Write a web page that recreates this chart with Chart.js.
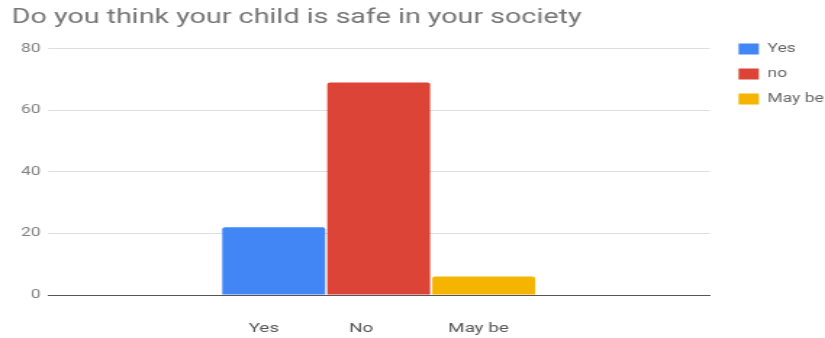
<!DOCTYPE html>
<html>
<head>
<meta charset="utf-8">
<script src="https://cdn.jsdelivr.net/npm/chart.js@4"></script>
<style>
  html, body { margin: 0; padding: 0; background: #fff; overflow: hidden; }
  /* the source picture is stretched sideways, so draw narrow and stretch */
  #wrap { width: 569px; height: 338px; transform: scaleX(1.45); transform-origin: 0 0; }
</style>
</head>
<body>
<div id="wrap"><canvas id="chart"></canvas></div>
<script>
/* data */
const chartTitle = "Do you think your child is safe in your society";
const categoryLabel = "Yes               No                May be";
const seriesNames = ["Yes", "no", "May be"];
const seriesValues = [22, 69, 6];
const seriesColors = ["#4285f4", "#db4437", "#f4b400"];
const yTicks = [0, 20, 40, 60, 80];

const datasets = seriesNames.map((name, i) => ({
  label: name,
  data: [seriesValues[i]],
  backgroundColor: seriesColors[i],
  borderRadius: { topLeft: 2, topRight: 2 },
  borderSkipped: "bottom",
  categoryPercentage: 0.476,
  barPercentage: 0.98
}));

/* move the legend down beside the plot, like the original */
const legendNudge = {
  id: "legendNudge",
  afterLayout(chart) {
    chart.legend.left += 7;
    chart.legend.top += 30;
  }
};

new Chart(document.getElementById("chart"), {
  type: "bar",
  data: { labels: [categoryLabel], datasets },
  plugins: [legendNudge],
  options: {
    responsive: true,
    maintainAspectRatio: false,
    animation: false,
    layout: { padding: { left: 8, right: -2, top: 0, bottom: 0 } },
    plugins: {
      title: {
        display: true,
        text: chartTitle,
        align: "start",
        color: "#757575",
        font: { family: "Roboto", size: 19.8, weight: "normal" },
        padding: { top: 6, bottom: 19 }
      },
      legend: {
        position: "right",
        align: "start",
        labels: {
          boxWidth: 14,
          boxHeight: 11,
          padding: 13,
          color: "#666",
          font: { family: "Roboto", size: 12 }
        }
      },
      tooltip: { enabled: false }
    },
    scales: {
      x: {
        afterFit: (s) => { s.height = 43; },
        grid: { display: false, drawTicks: false },
        border: { display: true, color: "#555" },
        ticks: {
          color: "#555",
          padding: 26,
          font: { family: "Roboto", size: 13 }
        }
      },
      y: {
        min: 0,
        max: 80,
        afterFit: (s) => { s.width = 25; },
        afterBuildTicks: (s) => { s.ticks = yTicks.map(v => ({ value: v })); },
        border: { display: false },
        grid: {
          color: (c) => c.tick && c.tick.value === 0 ? "#555" : "#dedede",
          drawTicks: false
        },
        ticks: {
          color: "#808080",
          padding: 5,
          font: { family: "Roboto", size: 12 }
        }
      }
    }
  }
});
</script>
</body>
</html>
